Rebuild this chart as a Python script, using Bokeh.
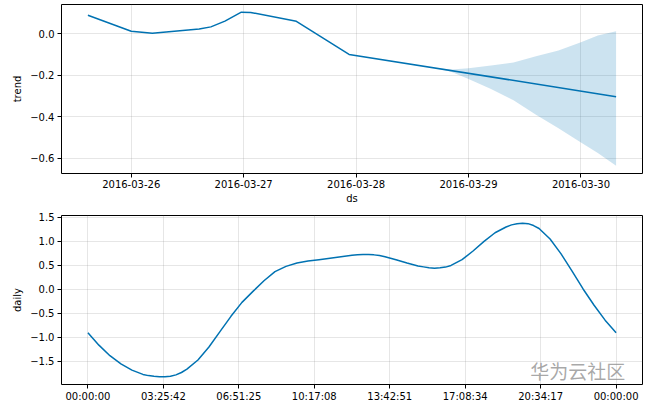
import numpy as np
import pandas as pd
from bokeh.plotting import figure
from bokeh.layouts import column
from bokeh.models import Range1d, FixedTicker, DatetimeTickFormatter, Label
from bokeh.embed import file_html
from bokeh.resources import INLINE

# ---------------- data ----------------
trend_ds = ["2016-03-25 14:45", "2016-03-26 00:00", "2016-03-26 04:30", "2016-03-26 14:30",
            "2016-03-26 17:00", "2016-03-26 20:00", "2016-03-26 23:30", "2016-03-27 01:30",
            "2016-03-27 11:15", "2016-03-27 22:30", "2016-03-30 07:30"]
trend_vals = [0.090, 0.013, 0.003, 0.024, 0.034, 0.062, 0.105, 0.104, 0.061, -0.099, -0.303]

band_ds = ["2016-03-28 16:48", "2016-03-28 20:24", "2016-03-29 00:00", "2016-03-29 04:48",
           "2016-03-29 09:36", "2016-03-29 14:24", "2016-03-29 19:12", "2016-03-30 00:00",
           "2016-03-30 03:36", "2016-03-30 07:30"]
band_upper = [-0.164, -0.172, -0.166, -0.153, -0.138, -0.108, -0.080, -0.040, -0.008, 0.013]
band_lower = [-0.164, -0.184, -0.218, -0.266, -0.320, -0.390, -0.455, -0.524, -0.575, -0.637]

trend_xticks = ["2016-03-26", "2016-03-27", "2016-03-28", "2016-03-29", "2016-03-30"]
trend_yticks = [0.0, -0.2, -0.4, -0.6]
trend_ytick_labels = ["0.0", "\u22120.2", "\u22120.4", "\u22120.6"]

daily_hours = [0.0, 0.5, 1.0, 1.5, 2.0, 2.5, 2.75, 3.0, 3.25, 3.5, 3.75, 4.0, 4.25, 4.5, 5.0,
               5.5, 6.0, 6.5, 7.0, 7.5, 8.0, 8.5, 9.0, 9.5, 10.0, 10.5, 11.0, 11.5, 12.0, 12.25,
               12.5, 12.75, 13.0, 13.25, 13.5, 14.0, 14.5, 15.0, 15.25, 15.5, 15.75, 16.0, 16.25,
               16.5, 17.0, 17.5, 18.0, 18.5, 19.0, 19.25, 19.5, 19.75, 20.0, 20.25, 20.5, 21.0,
               21.5, 22.0, 22.5, 23.0, 23.5, 24.0]
daily_vals = [-0.90, -1.16, -1.38, -1.55, -1.68, -1.77, -1.795, -1.81, -1.82, -1.82, -1.81,
              -1.78, -1.73, -1.66, -1.47, -1.20, -0.88, -0.56, -0.27, -0.04, 0.18, 0.37, 0.48,
              0.55, 0.59, 0.62, 0.65, 0.68, 0.71, 0.72, 0.73, 0.73, 0.72, 0.705, 0.68, 0.62,
              0.55, 0.49, 0.47, 0.45, 0.44, 0.45, 0.465, 0.50, 0.62, 0.80, 1.00, 1.18, 1.30,
              1.345, 1.37, 1.38, 1.37, 1.33, 1.27, 1.05, 0.74, 0.38, 0.01, -0.33, -0.64, -0.90]

daily_xtick_labels = ["00:00:00", "03:25:42", "06:51:25", "10:17:08", "13:42:51",
                      "17:08:34", "20:34:17", "00:00:00"]
daily_yticks = [-1.5, -1.0, -0.5, 0.0, 0.5, 1.0, 1.5]
daily_ytick_labels = ["\u22121.5", "\u22121.0", "\u22120.5", "0.0", "0.5", "1.0", "1.5"]

watermark = "华为云社区"

LINE = "#0072B2"
FONT = "DejaVu Sans"


def pad(lo, hi, frac=0.05):
    s = hi - lo
    return lo - frac * s, hi + frac * s


def style(p):
    p.outline_line_color = "black"
    p.outline_line_width = 1
    p.outline_line_alpha = 1
    p.background_fill_color = "white"
    p.border_fill_color = "white"
    for g in (p.xgrid, p.ygrid):
        g.grid_line_color = "gray"
        g.grid_line_alpha = 0.2
        g.grid_line_width = 1
    for ax in (p.xaxis, p.yaxis):
        ax.axis_line_color = None
        ax.major_tick_line_color = "black"
        ax.major_tick_out = 4
        ax.major_tick_in = 0
        ax.minor_tick_line_color = None
        ax.major_label_text_font = FONT
        ax.major_label_text_font_size = "10px"
        ax.major_label_text_color = "black"
        ax.axis_label_text_font = FONT
        ax.axis_label_text_font_size = "10px"
        ax.axis_label_text_font_style = "normal"
        ax.axis_label_text_color = "black"
        ax.major_label_standoff = 3
    p.xaxis.major_label_standoff = 2
    p.yaxis.axis_label_standoff = 4
    p.xaxis.axis_label_standoff = 2


# ---------------- top: trend ----------------
t_x = pd.to_datetime(trend_ds)
b_x = pd.to_datetime(band_ds)
t_lo, t_hi = pad(t_x.min().value / 1e6, t_x.max().value / 1e6)
y_lo, y_hi = pad(min(min(trend_vals), min(band_lower)), max(max(trend_vals), max(band_upper)))

p1 = figure(width=652, height=206, x_axis_type="datetime", output_backend="svg",
            toolbar_location=None, x_range=Range1d(t_lo, t_hi), y_range=Range1d(y_lo, y_hi),
            min_border_left=61, min_border_right=10, min_border_top=4, min_border_bottom=33)
p1.varea(x=b_x, y1=band_lower, y2=band_upper, fill_color=LINE, fill_alpha=0.2)
p1.line(x=t_x, y=trend_vals, line_color=LINE, line_width=1.5)
p1.xaxis.ticker = FixedTicker(ticks=[pd.Timestamp(d).value / 1e6 for d in trend_xticks])
p1.xaxis.formatter = DatetimeTickFormatter(days="%Y-%m-%d", months="%Y-%m-%d", hours="%Y-%m-%d",
                                           years="%Y-%m-%d")
p1.yaxis.ticker = FixedTicker(ticks=trend_yticks)
p1.yaxis.major_label_overrides = {v: s for v, s in zip(trend_yticks, trend_ytick_labels)}
p1.xaxis.axis_label = "ds"
p1.yaxis.axis_label = "trend"
style(p1)

# ---------------- bottom: daily ----------------
d_lo, d_hi = pad(min(daily_hours), max(daily_hours))
dy_lo, dy_hi = pad(min(daily_vals), max(daily_vals))
p2 = figure(width=652, height=203, output_backend="svg", toolbar_location=None,
            x_range=Range1d(d_lo, d_hi), y_range=Range1d(dy_lo, dy_hi),
            min_border_left=61, min_border_right=10, min_border_top=9, min_border_bottom=25)
p2.line(x=daily_hours, y=daily_vals, line_color=LINE, line_width=1.5)
xt = [24.0 * k / (len(daily_xtick_labels) - 1) for k in range(len(daily_xtick_labels))]
p2.xaxis.ticker = FixedTicker(ticks=xt)
p2.xaxis.major_label_overrides = {v: s for v, s in zip(xt, daily_xtick_labels)}
p2.yaxis.ticker = FixedTicker(ticks=daily_yticks)
p2.yaxis.major_label_overrides = {v: s for v, s in zip(daily_yticks, daily_ytick_labels)}
p2.yaxis.axis_label = "daily"
style(p2)
p2.add_layout(Label(x=20.1, y=dy_lo + 0.01, text=watermark, text_font="Noto Sans CJK SC",
                    text_font_size="19px", text_color="#8c8c8c", text_alpha=0.75,
                    text_baseline="bottom", level="overlay"))

layout = column(p1, p2)
open("out.html", "w").write(file_html(layout, INLINE))
